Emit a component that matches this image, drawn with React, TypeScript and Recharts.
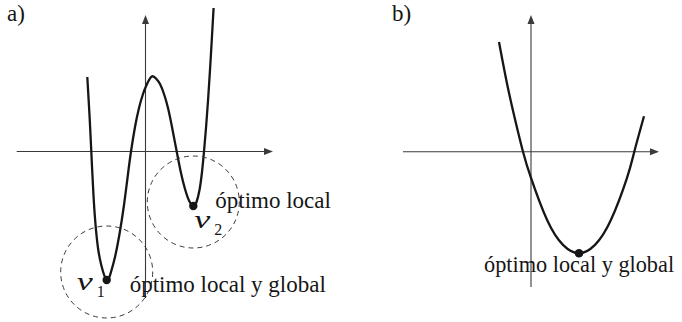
import { LineChart, Line, XAxis, YAxis, ReferenceLine, ReferenceDot } from 'recharts';

// a) curve with two minima (x, y in axis units)
const curveA = [
  { x: -5.82, y: 7.45 },
  { x: -5.6, y: 3.65 },
  { x: -5.42, y: 0 },
  { x: -5.23, y: -3.85 },
  { x: -5.02, y: -7.05 },
  { x: -4.75, y: -9.65 },
  { x: -4.4, y: -11.45 },
  { x: -3.88, y: -12.85 },
  { x: -3.45, y: -12.05 },
  { x: -3.05, y: -10.55 },
  { x: -2.6, y: -8.25 },
  { x: -2.15, y: -5.35 },
  { x: -1.75, y: -2.25 },
  { x: -1.45, y: 0 },
  { x: -1.05, y: 2.45 },
  { x: -0.65, y: 4.35 },
  { x: -0.25, y: 5.75 },
  { x: 0.15, y: 6.75 },
  { x: 0.62, y: 7.5 },
  { x: 1.05, y: 7.3 },
  { x: 1.45, y: 6.75 },
  { x: 1.85, y: 5.75 },
  { x: 2.25, y: 4.35 },
  { x: 2.65, y: 2.45 },
  { x: 3.12, y: 0 },
  { x: 3.55, y: -2.15 },
  { x: 3.95, y: -3.75 },
  { x: 4.35, y: -4.9 },
  { x: 4.78, y: -5.45 },
  { x: 5.1, y: -5.05 },
  { x: 5.4, y: -3.85 },
  { x: 5.65, y: -2.05 },
  { x: 5.85, y: 0 },
  { x: 6.05, y: 2.35 },
  { x: 6.25, y: 5.05 },
  { x: 6.45, y: 8.15 },
  { x: 6.65, y: 11.55 },
  { x: 6.81, y: 14.35 },
];

// b) convex curve with a single minimum
const curveB = [
  { x: -3.2, y: 10.97 },
  { x: -2.4, y: 6.82 },
  { x: -1.6, y: 3.25 },
  { x: -0.8, y: 0 },
  { x: 0, y: -2.62 },
  { x: 1.6, y: -6.81 },
  { x: 3.2, y: -9.32 },
  { x: 4.8, y: -10.16 },
  { x: 6.4, y: -9.32 },
  { x: 8.0, y: -6.81 },
  { x: 9.6, y: -2.62 },
  { x: 10.33, y: 0 },
  { x: 11.3, y: 3.54 },
];

const minimaA = [
  { x: -3.88, y: -12.85 },
  { x: 4.78, y: -5.45 },
];
const minimumB = { x: 4.8, y: -10.16 };

// neighbourhood circles around the minima of a)
const circlesA = [
  { x: -3.88, y: -12.05 },
  { x: 4.78, y: -5.05 },
];

const LABEL_LOCAL = 'óptimo local';
const LABEL_GLOBAL = 'óptimo local y global';

const INK = '#161616';
const AXIS = '#3a3a3a';
const FONT = '"Liberation Serif", "DejaVu Serif", serif';

const arrowRight = (p: any) => (
  <polygon
    points={`${p.cx},${p.cy} ${p.cx - 9},${p.cy - 3.5} ${p.cx - 9},${p.cy + 3.5}`}
    fill={AXIS}
  />
);
const arrowUp = (p: any) => (
  <polygon
    points={`${p.cx},${p.cy} ${p.cx - 3.5},${p.cy + 9} ${p.cx + 3.5},${p.cy + 9}`}
    fill={AXIS}
  />
);

const ring = (p: any) => (
  <circle cx={p.cx} cy={p.cy} r={46} fill="none" stroke={AXIS} strokeWidth={1} strokeDasharray="5 4" />
);

// script-style v with a subscript index
const VarName = ({ x, y, sub }: { x: number; y: number; sub: string }) => (
  <g fontFamily={FONT} fill={INK}>
    <text x={x} y={y} fontSize={26} fontStyle="italic" textLength={16} lengthAdjust="spacingAndGlyphs">
      v
    </text>
    <text x={x + 20} y={y + 7} fontSize={16}>{sub}</text>
  </g>
);

const globalA = (p: any) => (
  <g>
    <circle cx={p.cx} cy={p.cy} r={4.2} fill={INK} />
    <VarName x={p.cx - 30} y={p.cy + 10} sub="1" />
    <text x={p.cx + 23} y={p.cy + 12} fontSize={23} fontFamily={FONT} fill={INK}>{LABEL_GLOBAL}</text>
  </g>
);

const localA = (p: any) => (
  <g>
    <circle cx={p.cx} cy={p.cy} r={4.2} fill={INK} />
    <VarName x={p.cx + 1} y={p.cy + 22} sub="2" />
    <text x={p.cx + 22} y={p.cy + 2} fontSize={23} fontFamily={FONT} fill={INK}>{LABEL_LOCAL}</text>
  </g>
);

const globalB = (p: any) => (
  <g>
    <circle cx={p.cx} cy={p.cy} r={4.2} fill={INK} />
    <text x={p.cx - 95} y={p.cy + 19} fontSize={22.3} fontFamily={FONT} fill={INK}>{LABEL_GLOBAL}</text>
  </g>
);

const panelTitle = (left: number, text: string) => (
  <div
    style={{
      position: 'absolute',
      left,
      top: 2,
      fontFamily: FONT,
      fontSize: 23,
      lineHeight: '23px',
      color: INK,
    }}
  >
    {text}
  </div>
);

export default function App() {
  return (
    <div style={{ position: 'absolute', left: 0, top: 0, width: 682, height: 322, background: '#fff' }}>
      <div style={{ position: 'absolute', left: 0, top: 0 }}>
        <LineChart width={341} height={322} data={curveA} margin={{ top: 0, right: 0, bottom: 0, left: 0 }}>
          <XAxis type="number" dataKey="x" domain={[-14.55, 19.55]} allowDataOverflow hide />
          <YAxis type="number" dataKey="y" domain={[-17.05, 15.15]} allowDataOverflow hide />
          <ReferenceLine segment={[{ x: -12.88, y: 0 }, { x: 12.5, y: 0 }]} stroke={AXIS} strokeWidth={1.1} />
          <ReferenceLine segment={[{ x: 0, y: -14.65 }, { x: 0, y: 13.4 }]} stroke={AXIS} strokeWidth={1.1} />
          <ReferenceDot x={12.75} y={0} r={0} shape={arrowRight} />
          <ReferenceDot x={0} y={13.65} r={0} shape={arrowUp} />
          {circlesA.map((c, i) => (
            <ReferenceDot key={i} x={c.x} y={c.y} r={0} shape={ring} />
          ))}
          <Line
            dataKey="y"
            type="natural"
            dot={false}
            activeDot={false}
            stroke={INK}
            strokeWidth={2.3}
            isAnimationActive={false}
          />
          <ReferenceDot x={minimaA[0].x} y={minimaA[0].y} r={0} shape={globalA} />
          <ReferenceDot x={minimaA[1].x} y={minimaA[1].y} r={0} shape={localA} />
        </LineChart>
      </div>
      <div style={{ position: 'absolute', left: 341, top: 0 }}>
        <LineChart width={341} height={322} data={curveB} margin={{ top: 0, right: 0, bottom: 0, left: 0 }}>
          <XAxis type="number" dataKey="x" domain={[-19, 15.1]} allowDataOverflow hide />
          <YAxis type="number" dataKey="y" domain={[-17.03, 15.17]} allowDataOverflow hide />
          <ReferenceLine segment={[{ x: -12.8, y: 0 }, { x: 12.55, y: 0 }]} stroke={AXIS} strokeWidth={1.1} />
          <ReferenceLine segment={[{ x: 0, y: -13.53 }, { x: 0, y: 13.4 }]} stroke={AXIS} strokeWidth={1.1} />
          <ReferenceDot x={12.8} y={0} r={0} shape={arrowRight} />
          <ReferenceDot x={0} y={13.67} r={0} shape={arrowUp} />
          <Line
            dataKey="y"
            type="natural"
            dot={false}
            activeDot={false}
            stroke={INK}
            strokeWidth={2.3}
            isAnimationActive={false}
          />
          <ReferenceDot x={minimumB.x} y={minimumB.y} r={0} shape={globalB} />
        </LineChart>
      </div>
      {panelTitle(7, 'a)')}
      {panelTitle(392, 'b)')}
    </div>
  );
}
